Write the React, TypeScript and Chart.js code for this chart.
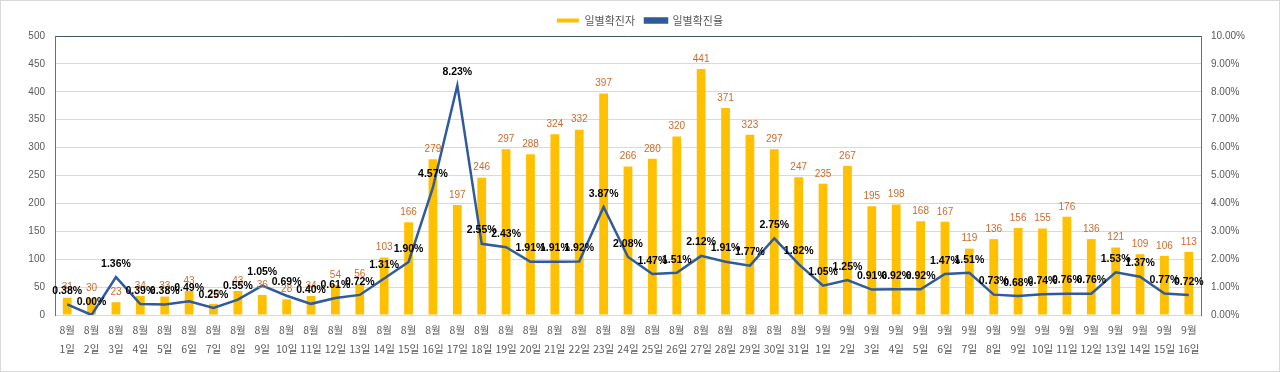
import React, { useEffect, useRef } from "react";
import { Chart, registerables } from "chart.js";

Chart.register(...registerables);

const months = ["8월","8월","8월","8월","8월","8월","8월","8월","8월","8월","8월","8월","8월","8월","8월","8월","8월","8월","8월","8월","8월","8월","8월","8월","8월","8월","8월","8월","8월","8월","8월","9월","9월","9월","9월","9월","9월","9월","9월","9월","9월","9월","9월","9월","9월","9월","9월"];
const days = ["1일","2일","3일","4일","5일","6일","7일","8일","9일","10일","11일","12일","13일","14일","15일","16일","17일","18일","19일","20일","21일","22일","23일","24일","25일","26일","27일","28일","29일","30일","31일","1일","2일","3일","4일","5일","6일","7일","8일","9일","10일","11일","12일","13일","14일","15일","16일"];
const dailyCases = [31,30,23,34,33,43,20,43,36,28,34,54,56,103,166,279,197,246,297,288,324,332,397,266,280,320,441,371,323,297,247,235,267,195,198,168,167,119,136,156,155,176,136,121,109,106,113];
const dailyRate = [0.38,0.00,1.36,0.39,0.38,0.49,0.25,0.55,1.05,0.69,0.40,0.61,0.72,1.31,1.90,4.57,8.23,2.55,2.43,1.91,1.91,1.92,3.87,2.08,1.47,1.51,2.12,1.91,1.77,2.75,1.82,1.05,1.25,0.91,0.92,0.92,1.47,1.51,0.73,0.68,0.74,0.76,0.76,1.53,1.37,0.77,0.72];
const leftTicks = [0,50,100,150,200,250,300,350,400,450,500];
const rightTicks = [0,1,2,3,4,5,6,7,8,9,10];

const KFONT = "'Noto Sans CJK KR', 'Noto Sans', sans-serif";
const NFONT = "'Liberation Sans', Arial, sans-serif";

const labelPlugin = {
  id: "valueLabels",
  afterDatasetsDraw(chart: any) {
    const ctx = chart.ctx;
    ctx.save();
    ctx.textAlign = "center";
    ctx.textBaseline = "bottom";
    const barMeta = chart.getDatasetMeta(0);
    ctx.font = `10px ${NFONT}`;
    ctx.fillStyle = "#CC6A2C";
    barMeta.data.forEach((el: any, i: number) => {
      ctx.fillText(String(dailyCases[i]), el.x, el.y - 5);
    });
    const lineMeta = chart.getDatasetMeta(1);
    ctx.font = `bold 10.5px ${NFONT}`;
    ctx.fillStyle = "#000000";
    lineMeta.data.forEach((el: any, i: number) => {
      ctx.fillText(dailyRate[i].toFixed(2) + "%", el.x, el.y - 8);
    });
    ctx.restore();
  },
};

export default function App() {
  const ref = useRef<HTMLCanvasElement | null>(null);
  useEffect(() => {
    if (!ref.current) return;
    const labels = months.map((m, i) => [m, days[i]]);
    const chart = new Chart(ref.current, {
      type: "bar",
      data: {
        labels,
        datasets: [
          {
            type: "bar",
            label: "일별확진자",
            data: dailyCases,
            backgroundColor: "#FFC000",
            borderWidth: 0,
            barPercentage: 0.36,
            categoryPercentage: 1,
            yAxisID: "y",
            order: 1,
          },
          {
            type: "line",
            label: "일별확진율",
            data: dailyRate,
            borderColor: "#2F5A9E",
            backgroundColor: "#2F5A9E",
            borderWidth: 2.5,
            pointRadius: 0,
            tension: 0,
            yAxisID: "y1",
            order: 0,
          },
        ] as any,
      },
      options: {
        responsive: false,
        animation: false,
        layout: { padding: { left: 0, right: 0, top: 4, bottom: 0 } },
        plugins: {
          tooltip: { enabled: false },
          legend: {
            position: "top",
            align: "center",
            labels: {
              boxWidth: 22,
              boxHeight: 4,
              padding: 10,
              color: "#595959",
              font: { family: KFONT, size: 11 },
              sort: (a: any, b: any) => a.datasetIndex - b.datasetIndex,
            },
          },
        },
        scales: {
          x: {
            offset: true,
            grid: { display: false, drawTicks: false },
            border: { display: false },
            ticks: {
              color: "#595959",
              font: { family: KFONT, size: 10.5, lineHeight: 1.8 },
              maxRotation: 0,
              autoSkip: false,
              padding: 6,
            },
            afterFit: (s: any) => { s.height = 56; },
          },
          y: {
            position: "left",
            min: 0,
            max: 500,
            afterBuildTicks: (s: any) => { s.ticks = leftTicks.map((v) => ({ value: v })); },
            grid: {
              color: (c: any) => (c.tick && c.tick.value === 500 ? "#44546A" : "#D9D9D9"),
              lineWidth: 1,
              drawTicks: false,
            },
            border: { display: true, color: "#4472C4", width: 1 },
            ticks: {
              color: "#595959",
              font: { family: NFONT, size: 10 },
              padding: 10,
            },
            afterFit: (s: any) => { s.width = 54; },
          },
          y1: {
            position: "right",
            min: 0,
            max: 10,
            afterBuildTicks: (s: any) => { s.ticks = rightTicks.map((v) => ({ value: v })); },
            grid: { display: false, drawTicks: false },
            border: { display: true, color: "#4472C4", width: 1 },
            ticks: {
              color: "#595959",
              font: { family: NFONT, size: 10 },
              padding: 10,
              callback: (v: any) => Number(v).toFixed(2) + "%",
            },
            afterFit: (s: any) => { s.width = 78; },
          },
        },
      } as any,
      plugins: [labelPlugin],
    });
    return () => chart.destroy();
  }, []);
  return (
    <div
      style={{
        position: "absolute",
        left: 0,
        top: 0,
        width: 1280,
        height: 372,
        boxSizing: "border-box",
        border: "1px solid #D9D9D9",
        background: "#fff",
      }}
    >
      <canvas ref={ref} width={1278} height={370} style={{ display: "block" }} />
    </div>
  );
}
